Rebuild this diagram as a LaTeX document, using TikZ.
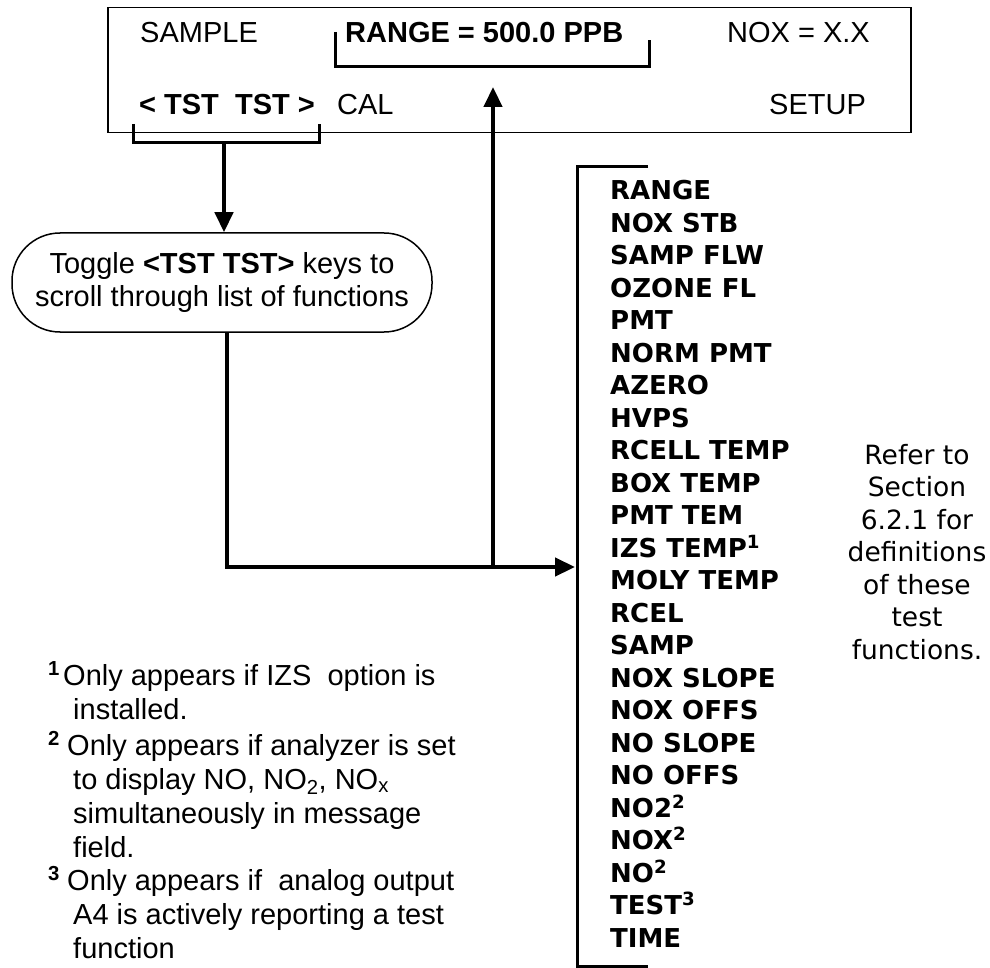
\documentclass[tikz,border=0pt]{standalone}
\usepackage{fontspec}
\setmainfont{Liberation Sans}
\newfontfamily\verdfont{DejaVu Sans}
\usetikzlibrary{arrows.meta}

\tikzset{
  disp/.style={font=\fontsize{29}{34}\selectfont, anchor=base west, inner sep=0pt},
  bracket/.style={line width=3pt},
  flow/.style={line width=4.5pt, -{Triangle[length=20pt,width=18pt]}},
  fitem/.style={font=\verdfont\bfseries\fontsize{26}{32.5}\selectfont, anchor=base west, inner sep=0pt},
  note/.style={font=\fontsize{29}{34}\selectfont, align=left, anchor=base west, inner sep=0pt},
}

\begin{document}
\begin{tikzpicture}[x=1pt,y=-1pt]
\useasboundingbox (0,0) rectangle (990,968);
% front panel
\node[draw, line width=1.5pt, minimum width=803pt, minimum height=125pt, anchor=north west, inner sep=0pt] (display) at (107,7) {};
\node[disp] (sample) at (140,43) {SAMPLE};
\node[disp] (range) at (345,43) {\bfseries RANGE = 500.0 PPB};
\node[disp] (nox) at (727,43) {NOX = X.X};
\node[disp] (tst) at (139,115) {\bfseries < TST\ \ TST >};
\node[disp] (cal) at (337,115) {CAL};
\node[disp] (setup) at (769,115) {SETUP};

% brackets
\coordinate (rangeB) at (493,67);
\draw[bracket] (335,32) |- (649,67) -- (649,40);
\coordinate (tstB) at (224,143);
\draw[bracket] (133,124) |- (319,143) -- (319,124);

\node[draw, line width=1.5pt, rounded corners=48pt, minimum width=420pt, minimum height=99pt,
      align=center, font=\fontsize{29}{33}\selectfont] (toggle) at (222,282.5)
      {Toggle \textbf{<TST TST>} keys to\\scroll through list of functions};

% list of test functions
\coordinate (listtop) at (577,167);
\coordinate (listbot) at (577,966);
\draw[bracket] (648,167) -- (listtop) -- (listbot) -- (648,966);
\foreach \name [count=\i from 0] in {RANGE, NOX STB, SAMP FLW, OZONE FL, PMT, NORM PMT, AZERO,
    HVPS, RCELL TEMP, BOX TEMP, PMT TEM, {IZS TEMP\textsuperscript{1}}, MOLY TEMP, RCEL, SAMP,
    NOX SLOPE, NOX OFFS, NO SLOPE, NO OFFS, {NO2\textsuperscript{2}}, {NOX\textsuperscript{2}},
    {NO\textsuperscript{2}}, {TEST\textsuperscript{3}}, TIME}
  \node[fitem] (item\i) at (610,{200+32.48*\i}) {\name};

\node[font=\verdfont\fontsize{26.5}{32.5}\selectfont, align=center, anchor=north, inner sep=0pt] (refer)
  at (917,444) {Refer to\\Section\\6.2.1 for\\definitions\\of these\\test\\functions.};

% connectors
\coordinate (turn) at (227,567);
\coordinate (fork) at (493,567);
\draw[flow] (tstB) -- (tstB |- toggle.north);
\draw[flow, shorten >=2pt] (turn |- toggle.south) -- (turn) -- (turn -| listtop);
\draw[flow, shorten >=20pt] (fork) -- (rangeB);

% footnotes (base = last line)
\node[note] (note1) at (48,719)
  {\makebox[15pt][l]{\textsuperscript{\bfseries 1}}Only appears if IZS\ \ option is\\
   \hspace*{25pt}installed.};
\node[note] (note2) at (48,857)
  {\makebox[19pt][l]{\textsuperscript{\bfseries 2}}Only appears if analyzer is set\\
   \hspace*{25pt}to display NO, NO\textsubscript{2}, NO\textsubscript{x}\\
   \hspace*{25pt}simultaneously in message\\
   \hspace*{25pt}field.};
\node[note] (note3) at (48,958)
  {\makebox[19pt][l]{\textsuperscript{\bfseries 3}}Only appears if\ \ analog output\\
   \hspace*{25pt}A4 is actively reporting a test\\
   \hspace*{25pt}function};
\end{tikzpicture}
\end{document}
